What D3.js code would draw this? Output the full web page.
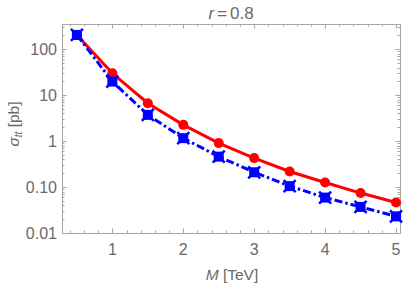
<!DOCTYPE html>
<html lang="en">
<head>
<meta charset="utf-8">
<title>r=0.8</title>
<script src="https://cdn.jsdelivr.net/npm/d3@7"></script>
<style>
  body { margin: 0; background: #fff; }
  text { font-family: "Liberation Sans", Arial, sans-serif; fill: #6a6a6a; }
</style>
</head>
<body>
<script>
// masses in TeV
var masses = [0.5, 1, 1.5, 2, 2.5, 3, 3.5, 4, 4.5, 5];
// cross sections in pb
var sigmaRed  = [205, 30, 6.7, 2.26, 0.905, 0.427, 0.218, 0.126, 0.074, 0.046];
var sigmaBlue = [205, 19.8, 3.73, 1.16, 0.46, 0.21, 0.105, 0.059, 0.037, 0.023];
var xTicks = [1, 2, 3, 4, 5];
var yTicks = [0.01, 0.1, 1, 10, 100];
var yTickLabels = ["0.01", "0.10", "1", "10", "100"];

var W = 409, H = 285;
// plot frame (note: "top" is reserved on window, so use other names)
var fx0 = 62, fx1 = 400, fy0 = 24, fy1 = 233;

var svg = d3.select("body").append("svg")
  .attr("width", W).attr("height", H);

var x = d3.scaleLinear().domain([0.29, 5.056]).range([fx0, fx1]);
var y = d3.scaleLog().domain([0.01, Math.pow(10, 2.55)]).range([fy1, fy0]);

var frameColor = "#a6a6a6";

// frame
svg.append("rect")
  .attr("x", fx0 + 0.5).attr("y", fy0 + 0.5)
  .attr("width", fx1 - fx0).attr("height", fy1 - fy0)
  .attr("fill", "none").attr("stroke", frameColor).attr("stroke-width", 1);

// x ticks (major + minor), bottom and top
var xMinor = d3.range(0.4, 5.01, 0.2).filter(function(v) {
  return Math.abs(v - Math.round(v)) > 0.01;
});
function drawXTicks(vals, len) {
  vals.forEach(function(v) {
    var px = Math.round(x(v)) + 0.5;
    svg.append("line").attr("x1", px).attr("x2", px)
      .attr("y1", fy1).attr("y2", fy1 - len)
      .attr("stroke", frameColor);
    svg.append("line").attr("x1", px).attr("x2", px)
      .attr("y1", fy0).attr("y2", fy0 + len)
      .attr("stroke", frameColor);
  });
}
drawXTicks(xTicks, 4.5);
drawXTicks(xMinor, 2.5);

// y ticks
var yMinor = [];
[0.01, 0.1, 1, 10, 100].forEach(function(d) {
  for (var k = 2; k <= 9; k++) {
    var v = d * k;
    if (v <= y.domain()[1]) yMinor.push(v);
  }
});
function drawYTicks(vals, len) {
  vals.forEach(function(v) {
    var py = Math.round(y(v)) + 0.5;
    svg.append("line").attr("x1", fx0).attr("x2", fx0 + len)
      .attr("y1", py).attr("y2", py).attr("stroke", frameColor);
    svg.append("line").attr("x1", fx1).attr("x2", fx1 - len)
      .attr("y1", py).attr("y2", py).attr("stroke", frameColor);
  });
}
drawYTicks(yTicks, 4.5);
drawYTicks(yMinor, 2.5);

// tick labels
svg.selectAll(".xl").data(xTicks).enter().append("text")
  .attr("class", "xl")
  .attr("x", function(d) { return x(d); })
  .attr("y", fy1 + 22)
  .attr("text-anchor", "middle")
  .attr("font-size", 16)
  .text(function(d) { return d; });

svg.selectAll(".yl").data(yTicks).enter().append("text")
  .attr("class", "yl")
  .attr("x", fx0 - 5)
  .attr("y", function(d) { return y(d) + 5.5; })
  .attr("text-anchor", "end")
  .attr("font-size", 16)
  .text(function(d, i) { return yTickLabels[i]; });

// title
var title = svg.append("text")
  .attr("x", 231).attr("y", 18.5)
  .attr("text-anchor", "middle").attr("font-size", 17);
title.append("tspan").attr("font-style", "italic").text("r");
title.append("tspan").attr("dx", 3).text("=");
title.append("tspan").attr("dx", 3).text("0.8");

// x label
var xl = svg.append("text")
  .attr("x", 232).attr("y", 280)
  .attr("text-anchor", "middle").attr("font-size", 15.5);
xl.append("tspan").attr("font-style", "italic").text("M");
xl.append("tspan").text(" [TeV]");

// y label
var ylab = svg.append("text")
  .attr("transform", "translate(19,124) rotate(-90)")
  .attr("text-anchor", "middle").attr("font-size", 15.5);
ylab.append("tspan").attr("font-style", "italic").text("σ");
ylab.append("tspan").attr("font-style", "italic").attr("font-size", 10).attr("dy", 3).text("tt");
ylab.append("tspan").attr("dy", -3).text(" [pb]");

// lines
var line = d3.line()
  .x(function(d) { return x(d[0]); })
  .y(function(d) { return y(d[1]); });

var redData = masses.map(function(m, i) { return [m, sigmaRed[i]]; });
var blueData = masses.map(function(m, i) { return [m, sigmaBlue[i]]; });

var plot = svg.append("g");

plot.append("path").datum(redData)
  .attr("d", line).attr("fill", "none")
  .attr("stroke", "#ff0000").attr("stroke-width", 3);

plot.selectAll(".rdot").data(redData).enter().append("circle")
  .attr("class", "rdot")
  .attr("cx", function(d) { return x(d[0]); })
  .attr("cy", function(d) { return y(d[1]); })
  .attr("r", 5).attr("fill", "#ff0000");

plot.append("path").datum(blueData)
  .attr("d", line).attr("fill", "none")
  .attr("stroke", "#0000ff").attr("stroke-width", 3)
  .attr("stroke-dasharray", "8,3,2.5,3");

var bm = plot.selectAll(".bmark").data(blueData).enter().append("g")
  .attr("class", "bmark")
  .attr("transform", function(d) { return "translate(" + x(d[0]) + "," + y(d[1]) + ")"; });
bm.append("rect").attr("x", -5).attr("y", -5)
  .attr("width", 10).attr("height", 10).attr("fill", "#0000ff");
bm.append("path").attr("d", "M-6,-6L6,6M-6,6L6,-6")
  .attr("stroke", "#0000ff").attr("stroke-width", 2.5);
</script>
</body>
</html>
